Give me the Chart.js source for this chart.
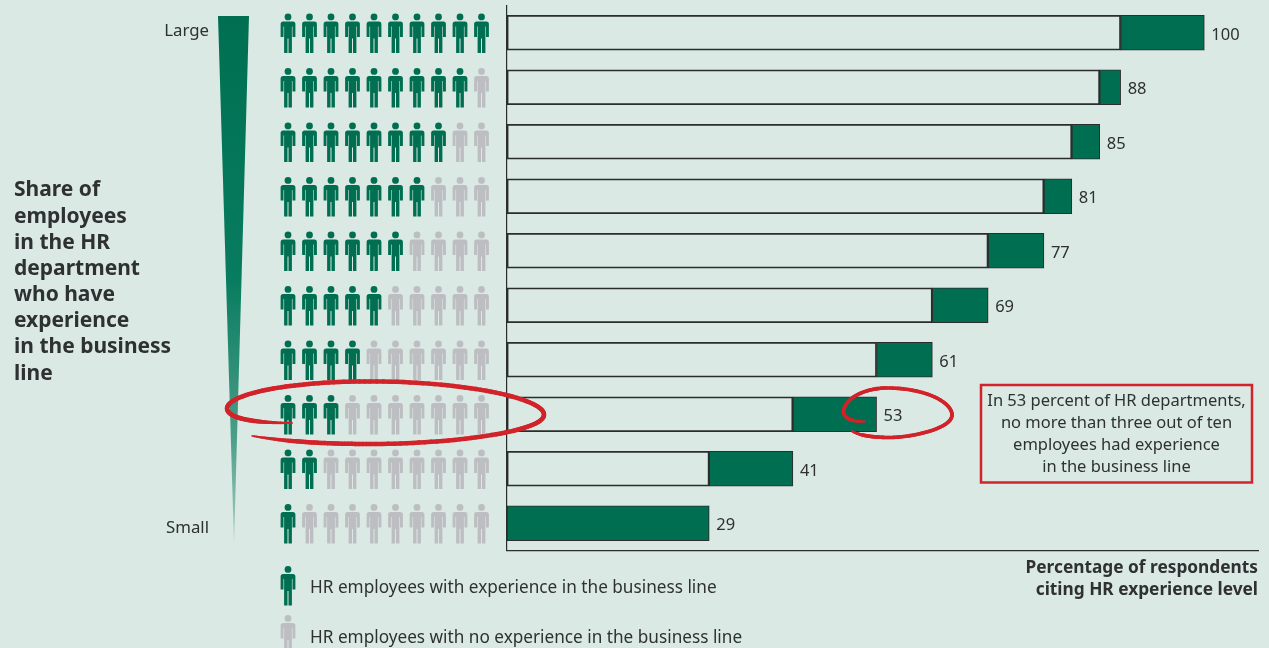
<!DOCTYPE html>
<html>
<head>
<meta charset="utf-8">
<style>
  html, body { margin: 0; padding: 0; background: #dae9e3; overflow: hidden; }
  #wrap { position: relative; width: 1269px; height: 648px; }
</style>
<script src="https://cdn.jsdelivr.net/npm/chart.js@4/dist/chart.umd.min.js"></script>
</head>
<body>
<div id="wrap"><canvas id="chart" width="1269" height="648"></canvas></div>
<script>
// Survey rows, from the largest to the smallest share of experienced HR staff
const rows = ['r10', 'r9', 'r8', 'r7', 'r6', 'r5', 'r4', 'r3', 'r2', 'r1'];
const rowNames = ['Large', '', '', '', '', '', '', '', '', 'Small'];
const experiencedPeople = [10, 9, 8, 7, 6, 5, 4, 3, 2, 1];
const previousTotal = [88, 85, 81, 77, 69, 61, 53, 41, 29, 0];
const addedShare = [12, 3, 4, 4, 8, 8, 8, 12, 12, 29];
const totalLabels = [100, 88, 85, 81, 77, 69, 61, 53, 41, 29];
const titleLines = ['Share of', 'employees', 'in the HR', 'department', 'who have', 'experience', 'in the business', 'line'];
const axisTitleLines = ['Percentage of respondents', 'citing HR experience level'];
const noteLines = ['In 53 percent of HR departments,', 'no more than three out of ten', 'employees had experience', 'in the business line'];
const legendLines = ['HR employees with experience in the business line', 'HR employees with no experience in the business line'];

const GREEN = '#006f51', GREY = '#bdbec2', RED = '#d2232a', INK = '#2f3032', LINE = '#2b2d2c';
const FONT = '"Noto Sans", sans-serif';

function person(ctx, cx, top, color) {
  ctx.fillStyle = color;
  ctx.beginPath();
  ctx.arc(cx, top + 3.4, 3.4, 0, Math.PI * 2);
  ctx.fill();
  ctx.beginPath();
  ctx.roundRect(cx - 7.4, top + 8, 14.8, 5, [2.5, 2.5, 0, 0]);
  ctx.rect(cx - 7.4, top + 12, 2.9, 11.5);
  ctx.rect(cx + 4.5, top + 12, 2.9, 11.5);
  ctx.rect(cx - 3.9, top + 12, 7.8, 13);
  ctx.rect(cx - 3.9, top + 24, 3.4, 15.5);
  ctx.rect(cx + 0.5, top + 24, 3.4, 15.5);
  ctx.fill();
}

// Pen-like stroke: width swells from the ends towards the middle of the curve
function penStroke(ctx, segments, maxWidth) {
  const pts = [];
  segments.forEach(s => {
    for (let i = 0; i < 40; i++) {
      const t = i / 40, u = 1 - t;
      pts.push([
        u*u*u*s[0] + 3*u*u*t*s[2] + 3*u*t*t*s[4] + t*t*t*s[6],
        u*u*u*s[1] + 3*u*u*t*s[3] + 3*u*t*t*s[5] + t*t*t*s[7]
      ]);
    }
  });
  ctx.strokeStyle = RED;
  ctx.lineCap = 'round';
  for (let i = 0; i < pts.length - 1; i++) {
    const f = i / (pts.length - 2);
    ctx.lineWidth = 1.8 + (maxWidth - 1.8) * Math.min(1, Math.min(f, 1 - f) * 12);
    ctx.beginPath();
    ctx.moveTo(pts[i][0], pts[i][1]);
    ctx.lineTo(pts[i + 1][0], pts[i + 1][1]);
    ctx.stroke();
  }
}

const decorations = {
  id: 'decorations',
  beforeDatasetsDraw(chart) {
    const ctx = chart.ctx, y = chart.scales.y;
    ctx.save();
    // Tapering wedge for the Large-to-Small scale
    const g = ctx.createLinearGradient(0, 16, 0, 543);
    g.addColorStop(0, GREEN);
    g.addColorStop(0.5, '#087c5f');
    g.addColorStop(0.8, '#4a9e88');
    g.addColorStop(1, '#a9cfc3');
    ctx.fillStyle = g;
    ctx.beginPath();
    ctx.moveTo(218, 16); ctx.lineTo(249, 16); ctx.lineTo(234, 543);
    ctx.closePath(); ctx.fill();

    // Ten figures per row, the first few coloured
    rows.forEach((r, i) => {
      const cy = y.getPixelForValue(i);
      for (let k = 0; k < 10; k++) {
        person(ctx, 288 + k * 21.5, cy - 19.2, k < experiencedPeople[i] ? GREEN : GREY);
      }
    });
    ctx.restore();
  },
  afterDatasetsDraw(chart) {
    const ctx = chart.ctx, x = chart.scales.x, y = chart.scales.y;
    ctx.save();
    ctx.textBaseline = 'middle';

    // Value beside each bar
    ctx.fillStyle = INK;
    ctx.font = '16.5px ' + FONT;
    ctx.textAlign = 'left';
    totalLabels.forEach((v, i) => {
      ctx.fillText(String(v), x.getPixelForValue(v) + 7, y.getPixelForValue(i) + 2.2);
    });

    // Scale end labels
    ctx.font = '16.8px ' + FONT;
    ctx.textAlign = 'right';
    rowNames.forEach((n, i) => {
      if (n) ctx.fillText(n, 209, y.getPixelForValue(i) + (i === 0 ? -2 : 5));
    });

    // Left-hand title
    ctx.font = 'bold 21px ' + FONT;
    ctx.textAlign = 'left';
    titleLines.forEach((t, i) => ctx.fillText(t, 14, 190.5 + i * 26.15));

    // Axis caption
    ctx.font = 'bold 17.3px ' + FONT;
    ctx.textAlign = 'right';
    axisTitleLines.forEach((t, i) => ctx.fillText(t, 1258, 568.5 + i * 22));

    // Legend
    person(ctx, 288, 566, GREEN);
    person(ctx, 288, 615, GREY);
    ctx.fillStyle = INK;
    ctx.font = '17.2px ' + FONT;
    ctx.textAlign = 'left';
    legendLines.forEach((t, i) => ctx.fillText(t, 310, 588 + i * 50));

    // Callout
    ctx.strokeStyle = RED;
    ctx.lineWidth = 2.5;
    ctx.strokeRect(981, 385, 271, 97.5);
    ctx.fillStyle = INK;
    ctx.font = '16.5px ' + FONT;
    ctx.textAlign = 'center';
    noteLines.forEach((t, i) => ctx.fillText(t, 1116.5, 401.3 + i * 22));

    // Hand-drawn rings
    penStroke(ctx, [
      [292, 423, 262, 423, 227, 420, 227, 408],
      [227, 408, 230, 392, 300, 381, 370, 381.5],
      [370, 381.5, 460, 381, 545, 398, 544, 415],
      [544, 415, 543, 432, 450, 444, 370, 444],
      [370, 444, 320, 444, 280, 441, 250, 435.5]
    ], 4.5);
    penStroke(ctx, [
      [865, 421.5, 852, 422, 843, 418, 843.5, 411],
      [843.5, 411, 845, 398, 865, 388, 887, 388],
      [887, 388, 925, 388, 952, 402, 952, 415],
      [952, 415, 952, 428, 915, 437, 890, 437.5],
      [890, 437.5, 872, 437.5, 858, 435, 851.5, 431]
    ], 3.6);
    ctx.restore();
  }
};

new Chart(document.getElementById('chart'), {
  type: 'bar',
  plugins: [decorations],
  data: {
    labels: rows,
    datasets: [
      { data: previousTotal, backgroundColor: 'rgba(0,0,0,0)', borderColor: LINE, borderWidth: 1.1, borderSkipped: false },
      { data: addedShare, backgroundColor: GREEN, borderColor: LINE, borderWidth: 1.1, borderSkipped: false }
    ]
  },
  options: {
    indexAxis: 'y',
    responsive: false,
    animation: false,
    layout: { padding: { left: 507, right: 11, top: 5.5, bottom: 97.5 } },
    datasets: { bar: { barThickness: 35 } },
    plugins: { legend: { display: false }, tooltip: { enabled: false } },
    scales: {
      x: {
        stacked: true, min: 0, max: 107.7,
        grid: { display: false, drawTicks: false },
        ticks: { display: false },
        border: { display: true, color: LINE, width: 1.2 }
      },
      y: {
        stacked: true,
        grid: { display: false, drawTicks: false },
        ticks: { display: false },
        border: { display: true, color: LINE, width: 1.2 }
      }
    }
  }
});
</script>
</body>
</html>
